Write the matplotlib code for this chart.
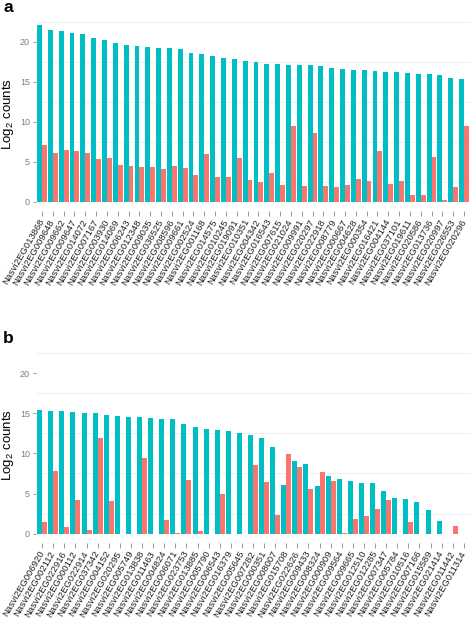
import matplotlib
matplotlib.use("Agg")
import matplotlib.pyplot as plt
import numpy as np

plt.rcParams['font.family'] = ['Liberation Sans', 'DejaVu Sans']

genes_a = ["Nasvi2EG013868", "Nasvi2EG009648", "Nasvi2EG009662", "Nasvi2EG009647", "Nasvi2EG014072",
           "Nasvi2EG007167", "Nasvi2EG003930", "Nasvi2EG014069", "Nasvi2EG006243", "Nasvi2EG012348",
           "Nasvi2EG009035", "Nasvi2EG036525", "Nasvi2EG008596", "Nasvi2EG009661", "Nasvi2EG002524",
           "Nasvi2EG001168", "Nasvi2EG014575", "Nasvi2EG010245", "Nasvi2EG019091", "Nasvi2EG010351",
           "Nasvi2EG004342", "Nasvi2EG016543", "Nasvi2EG007615", "Nasvi2EG021024", "Nasvi2EG009991",
           "Nasvi2EG020297", "Nasvi2EG022918", "Nasvi2EG008779", "Nasvi2EG000667", "Nasvi2EG004628",
           "Nasvi2EG000354", "Nasvi2EG016421", "Nasvi2EG004144", "Nasvi2EG037101", "Nasvi2EG019611",
           "Nasvi2EG020586", "Nasvi2EG013736", "Nasvi2EG020997", "Nasvi2EG026553", "Nasvi2EG020296"]
teal_a = [22.1, 21.45, 21.37, 21.12, 21.0, 20.54, 20.2, 19.88, 19.63, 19.54,
          19.33, 19.29, 19.2, 19.17, 18.59, 18.54, 18.25, 18.0, 17.86,
          17.59, 17.46, 17.21, 17.21, 17.13, 17.13, 17.09, 16.96, 16.8, 16.67,
          16.55, 16.47, 16.42, 16.3, 16.22, 16.17, 16.0, 15.97, 15.93, 15.47, 15.34]
red_a = [7.07, 6.15, 6.49, 6.4, 6.15, 5.36, 5.53, 4.62, 4.53, 4.41,
         4.32, 4.07, 4.53, 4.28, 3.41, 6.03, 3.12, 3.1, 5.53,
         2.74, 2.45, 3.58, 2.12, 9.48, 2.04, 8.57, 1.95, 1.91, 2.12,
         2.91, 2.66, 6.4, 2.25, 2.58, 0.91, 0.87, 5.65, 0.25, 1.87, 9.44]

genes_b = ["Nasvi2EG006920", "Nasvi2EG002112", "Nasvi2EG022916", "Nasvi2EG000112", "Nasvi2EG022914",
           "Nasvi2EG037342", "Nasvi2EG004152", "Nasvi2EG020295", "Nasvi2EG005749", "Nasvi2EG013838",
           "Nasvi2EG011463", "Nasvi2EG004824", "Nasvi2EG006071", "Nasvi2EG023753", "Nasvi2EG013885",
           "Nasvi2EG005790", "Nasvi2EG006543", "Nasvi2EG016379", "Nasvi2EG005645", "Nasvi2EG007282",
           "Nasvi2EG000351", "Nasvi2EG008007", "Nasvi2EG015708", "Nasvi2EG022626", "Nasvi2EG009433",
           "Nasvi2EG008324", "Nasvi2EG000909", "Nasvi2EG009564", "Nasvi2EG009665", "Nasvi2EG012510",
           "Nasvi2EG012285", "Nasvi2EG007347", "Nasvi2EG005784", "Nasvi2EG010516", "Nasvi2EG007166",
           "Nasvi2EG015589", "Nasvi2EG021414", "Nasvi2EG011442", "Nasvi2EG011314"]
teal_b = [15.43, 15.3, 15.26, 15.13, 15.09, 15.05, 14.76, 14.64, 14.55, 14.51,
          14.39, 14.26, 14.26, 13.64, 13.31, 13.1, 12.93, 12.85, 12.52,
          12.27, 11.93, 10.81, 6.07, 9.06, 8.73, 5.95, 7.23, 6.78, 6.53, 6.36,
          6.28, 5.32, 4.41, 4.32, 3.95, 2.91, 1.54, 0, 0]
red_b = [1.46, 7.82, 0.79, 4.2, 0.5, 11.98, 4.07, 0, 0, 9.48,
         0, 1.7, 0.12, 6.65, 0.29, 0, 4.9, 0, 0,
         8.61, 6.4, 2.33, 9.9, 8.36, 5.57, 7.65, 6.57, 0.12, 1.87, 2.2,
         3.12, 4.2, 0, 1.46, 0, 0, 0, 0.91, 0]

TEAL = '#00BFC4'
RED = '#F8766D'
W, H = 472, 623
fig = plt.figure(figsize=(W / 100, H / 100), dpi=100)

panels = [
    (genes_a, teal_a, red_a, 16.4, 210.8, 'a'),
    (genes_b, teal_b, red_b, 347.6, 542.5, 'b'),
]
left_px, right_px = 35.5, 470.5
for genes, teal, red, top_px, bot_px, letter in panels:
    ax = fig.add_axes([left_px / W, 1 - bot_px / H, (right_px - left_px) / W, (bot_px - top_px) / H])
    n = len(genes)
    x = np.arange(n)
    bw = 0.45
    ax.bar(x - bw / 2, teal, width=bw, color=TEAL, zorder=2, linewidth=0)
    ax.bar(x + bw / 2, red, width=bw, color=RED, zorder=2, linewidth=0)
    ax.set_xlim(-0.6, n - 0.4)
    ax.set_ylim(-1.105, 23.2)
    for g in [2.5, 7.5, 12.5, 17.5, 22.5]:
        ax.axhline(g, color='#ececec', linewidth=0.6, zorder=1)
    ax.set_yticks([0, 5, 10, 15, 20])
    ax.set_xticks(x)
    ax.set_xticklabels(genes, rotation=60, ha='right', va='center', rotation_mode='anchor',
                       fontsize=6.8, color='#222222')
    ax.tick_params(axis='x', length=3.5, width=0.6, color='#8a8a8a', pad=3)
    ax.tick_params(axis='y', length=2.5, width=0.6, color='#8a8a8a', pad=1.5,
                   labelsize=6.5, labelcolor='#7f7f7f')
    for s in ax.spines.values():
        s.set_visible(False)
    ax.set_ylabel(r'Log$_\mathregular{2}$ counts', fontsize=9.5, color='black')
    ax.yaxis.set_label_coords((16.5 - left_px) / (right_px - left_px), 0.5)
    ax.set_facecolor('white')
    fig.text(3 / W, 1 - (top_px - 4.5) / H, letter, fontsize=12.5, fontweight='bold', ha='left', va='baseline')

fig.savefig('out.png', dpi=100, facecolor='white')
